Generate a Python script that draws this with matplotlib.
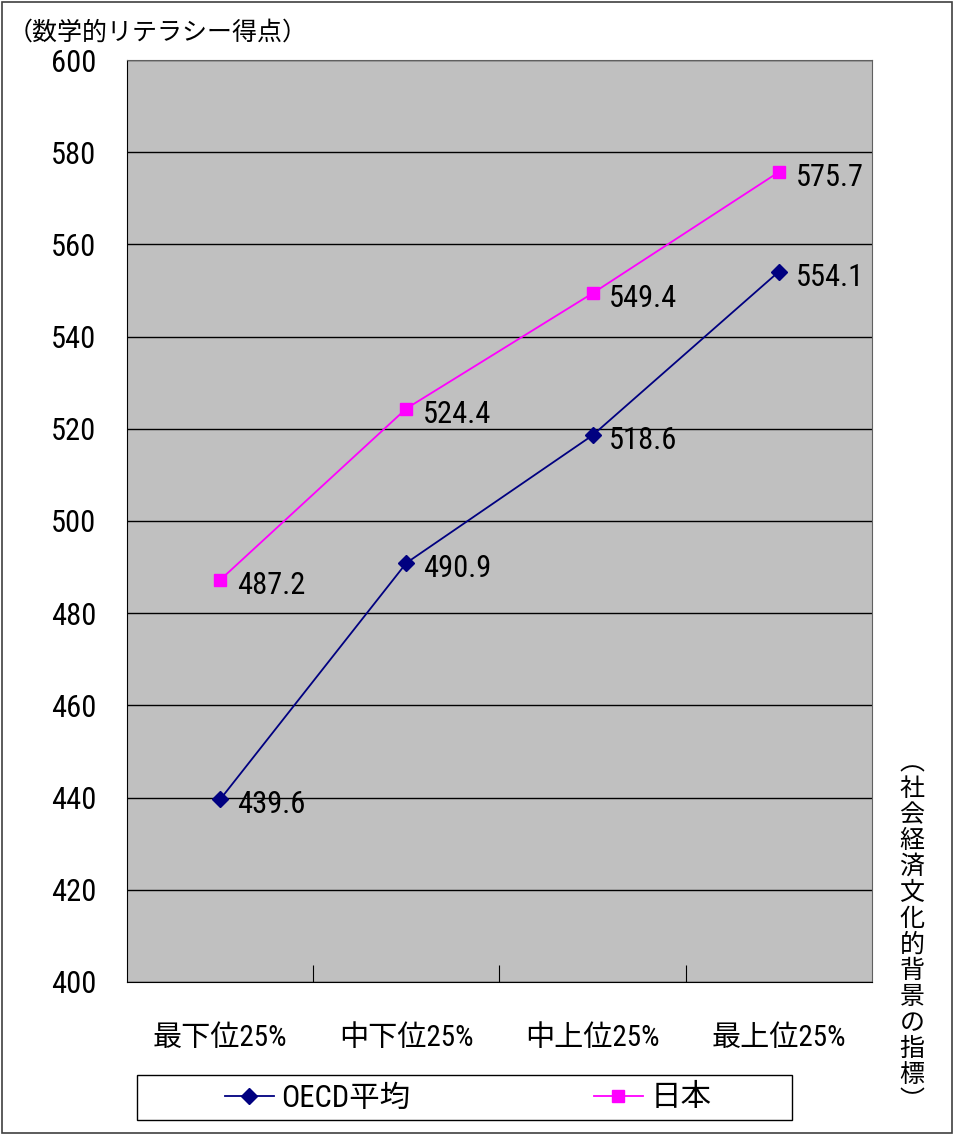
import matplotlib.pyplot as plt
from matplotlib.patches import Rectangle

# data
categories = ['最下位25%', '中下位25%', '中上位25%', '最上位25%']
oecd = [439.6, 490.9, 518.6, 554.1]
japan = [487.2, 524.4, 549.4, 575.7]
yticks = list(range(400, 601, 20))

# narrow latin face first, CJK fallback
plt.rcParams['font.family'] = ['Roboto Condensed', 'Noto Sans CJK JP', 'DejaVu Sans']
cjk = ['Noto Sans CJK JP', 'DejaVu Sans']

fig = plt.figure(figsize=(9.54, 11.35), dpi=100)
ax = fig.add_axes([127 / 954, 1 - 982 / 1135, 745 / 954, 922 / 1135])
ax.set_facecolor('#C0C0C0')

xs = [i + 0.5 for i in range(len(categories))]
ax.plot(xs, oecd, color='#000080', lw=1.3, marker='D', ms=8, label='OECD平均')
ax.plot(xs, japan, color='#FF00FF', lw=1.3, marker='s', ms=8, label='日本')

for x, v in zip(xs, oecd):
    ax.annotate(f'{v:.1f}', (x, v), xytext=(12, -4), textcoords='offset points',
                ha='left', va='center', fontsize=22)
for x, v in zip(xs, japan):
    ax.annotate(f'{v:.1f}', (x, v), xytext=(12, -4), textcoords='offset points',
                ha='left', va='center', fontsize=22)

ax.set_xlim(0, 4)
ax.set_ylim(400, 600)
ax.set_yticks(yticks)
ax.set_yticklabels([str(t) for t in yticks], fontsize=22)
ax.tick_params(axis='y', length=0, pad=22)
ax.grid(axis='y', color='black', lw=1)
ax.set_axisbelow(True)

ax.set_xticks([1, 2, 3])
ax.set_xticklabels([])
ax.tick_params(axis='x', direction='in', length=12, color='black')
ax.set_xticks(xs, minor=True)
ax.set_xticklabels(categories, minor=True, fontsize=21)
ax.tick_params(axis='x', which='minor', length=0, pad=30)

for s in ['left', 'bottom']:
    ax.spines[s].set_color('black')
for s in ['top', 'right']:
    ax.spines[s].set_color('#606060')

fig.text(8 / 954, 1 - 33 / 1135, '（数学的リテラシー得点）', fontsize=18,
         ha='left', va='center', family=cjk)

vert = '\n'.join('︵社会経済文化的背景の指標︶')
fig.text(912 / 954, 1 - 932 / 1135, vert, fontsize=18, ha='center', va='center',
         linespacing=1.0, family=cjk)

# legend box
fig.patches.append(Rectangle((137 / 954, 1 - 1120 / 1135), 655 / 954, 45 / 1135,
                             transform=fig.transFigure, fill=False, edgecolor='black', lw=1))
fig.legend(loc='center', bbox_to_anchor=(468 / 954, 1 - 1098 / 1135),
           ncol=2, fontsize=22, frameon=False, handlelength=1.6,
           handletextpad=0.25, columnspacing=6.0, borderaxespad=0)

fig.patches.append(Rectangle((2 / 954, 2 / 1135), 950 / 954, 1131 / 1135,
                             transform=fig.transFigure, fill=False, edgecolor='#404040', lw=1.2))

fig.savefig('out.png', dpi=100)
